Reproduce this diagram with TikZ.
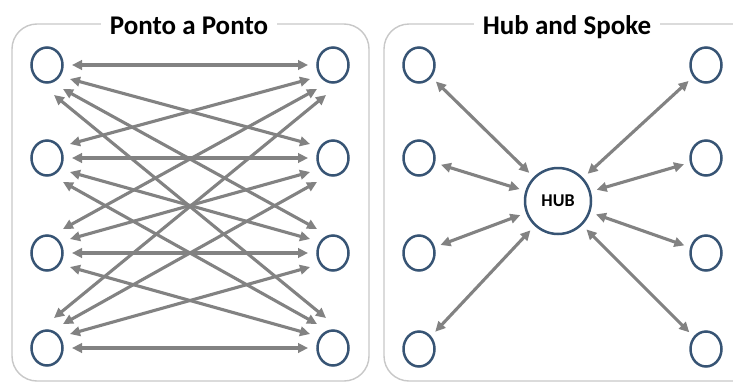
\documentclass[tikz,border=0pt]{standalone}
\usepackage{fontspec}
\setmainfont{Carlito}
\usetikzlibrary{arrows.meta,calc,shapes.geometric}
\definecolor{nodeblue}{RGB}{55,84,116}
\definecolor{arrgray}{RGB}{130,130,130}
\definecolor{panelgray}{RGB}{200,200,200}
\begin{document}
\begin{tikzpicture}[x=1pt,y=-1pt,
  endpoint/.style={ellipse,draw=nodeblue,line width=2.5pt,minimum width=31pt,minimum height=35pt,inner sep=0pt},
  hubnode/.style={circle,draw=nodeblue,line width=2.5pt,minimum size=66pt,inner sep=0pt,font=\bfseries\fontsize{18}{20}\selectfont},
  link/.style={draw=arrgray,line width=3.1pt,{Triangle[length=10pt,width=9.5pt]}-{Triangle[length=10pt,width=9.5pt]}},
  panel/.style={draw=panelgray,line width=1.4pt,rounded corners=25pt},
  paneltitle/.style={fill=white,inner xsep=9pt,inner ysep=3pt,anchor=base,font=\bfseries\fontsize{27}{30}\selectfont}]
\useasboundingbox (0,0) rectangle (733,383);
\clip (0,0) rectangle (733,383);
\fill[white] (0,0) rectangle (733,383);
% panels
\draw[panel] (12,24) rectangle (369,381);
\draw[panel] (384,24) rectangle (760,381);
\node[paneltitle] (t1) at (189,34) {Ponto a Ponto};
\node[paneltitle] (t2) at (567,34) {Hub and Spoke};
% left panel nodes
\foreach \k/\y in {1/65,2/158,3/253,4/348}{
  \node[endpoint] (L\k) at (47,\y) {};
  \node[endpoint] (R\k) at (333,\y) {};
}
% point to point links
\foreach \i in {1,...,4}{
  \foreach \j in {1,...,4}{
    \pgfmathtruncatemacro\ad{abs(\j-\i)}
    \pgfmathsetmacro\sg{sign(\j-\i)}
    \pgfmathsetmacro\dx{{25,23,16,7}[\ad]}
    \pgfmathsetmacro\dy{{0,14,24,30}[\ad]*\sg}
    \draw[link] ($(L\i)+(\dx,\dy)$) -- ($(R\j)+(-\dx,-\dy)$);
  }
}
% hub and spoke
\node[hubnode] (HUB) at (558,201) {HUB};
\foreach \k/\y in {1/65,2/158,3/253,4/349}{
  \node[endpoint] (A\k) at (419,\y) {};
  \node[endpoint] (B\k) at (706,\y) {};
  \draw[link,shorten >=6pt,shorten <=6pt] (A\k) -- (HUB);
  \draw[link,shorten >=6pt,shorten <=6pt] (B\k) -- (HUB);
}
\end{tikzpicture}
\end{document}
